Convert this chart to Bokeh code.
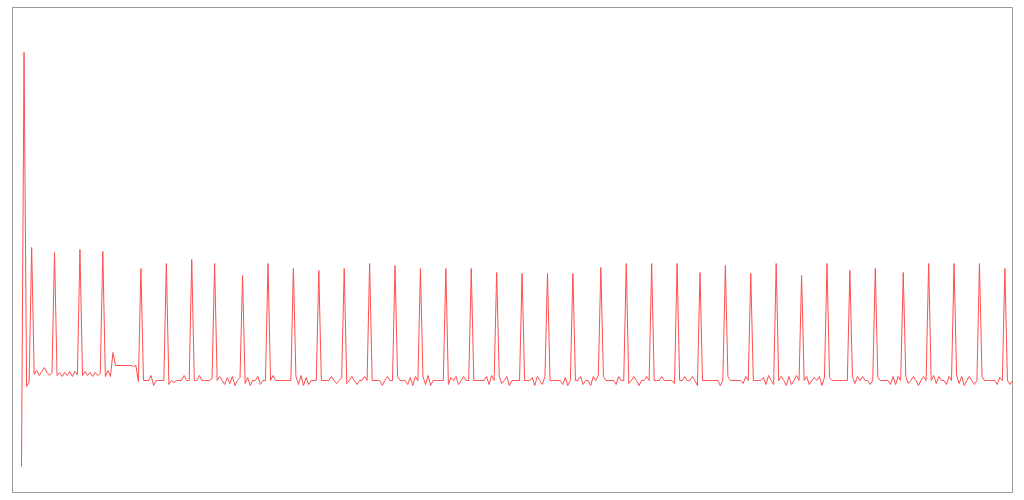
from bokeh.plotting import figure
from bokeh.models import Range1d
from bokeh.embed import file_html
from bokeh.resources import INLINE

# Signal samples (arbitrary units)
onset = [-86, 328, -6, -2, 133, 6, 10, 5, 9, 13, 8, 5, 8,
         128, 5, 8, 4, 8, 5, 9, 4, 9, 6,
         131, 5, 9, 5, 8, 4, 8, 5, 7,
         129, 4, 10, 4, 28, 15, 15, 15, 15, 15, 15, 15, 14, 15, -1]

rhythm = [
    112, 0, 0, 0, 5, -5, 0, 0, 0, 0,
    117, -4, 0, -2, 0, 0, 0, 5, 0, 0,
    121, 0, 0, 5, 0, 0, 0, 0, 2,
    117, 0, 4, 0, -4, 3, -3, 4, -5, 0, 3,
    105, -3, 3, -5, 0, 0, 4, -4, 0, 0,
    117, 0, 5, 0, 0, 0, 0, 0, 0, 0,
    112, 4, -4, 5, -5, 3, -4, 0, 0, 0,
    110, 0, 0, 0, 0, 4, 0, -3, 0, 3,
    112, -3, 0, 4, 0, -4, 0, 0, 4, 0,
    117, 0, 0, 0, 0, -5, 0, 4, 0, 0,
    115, 4, 0, 0, 0, -4, 3, -5, 4, 0,
    112, 4, -4, 5, -5, 0, 0, 0, 0, 0,
    112, -4, 3, 0, 4, -4, 0, 4, 0, 0,
    112, 0, 0, 0, 0, 0, 4, -4, 5, 0,
    108, 4, -3, 0, 4, -5, 0, 0, 0, 0,
    107, 0, 0, 0, 3, -5, 4, 0, -4, 4,
    107, 0, 0, 0, 0, 0, -4, 3, -5, 0,
    107, 0, 0, 4, -4, 0, 0, -5, 4, 0, 5,
    113, 4, 0, 0, 0, 0, -4, 4, 0, 0,
    117, -3, 0, 4, 0, -5, 0, 0, 4, 0,
    117, 0, 0, 0, 4, 0, 0, 0, 0, -3,
    117, 0, 0, 4, 0, 0, 4, 0, -5,
    108, 0, 0, 0, 0, 0, 0, 0, -5, 0,
    115, 4, 0, 0, 0, 0, 0, -3, 4, 0,
    107, 0, 0, 0, 0, 3, -4, 5, 0, -4,
    117, 0, 4, 0, -5, 4, -4, 0, 5, 0,
    105, 0, 4, -4, 0, 3, 0, 4, -5, 3,
    117, 3, 0, 0, 0, 0, 0, 0, 0,
    110, 4, -3, 4, 0, 4, 0, 0, -4, 0,
    112, 3, 0, 0, 0, 0, -4, 4, -4, 4, 0,
    108, 4, -3, 0, 4, 0, -5, 0, 4, 0,
    117, 0, 5, -3, 4, 0, 0, -4, 4, 0,
    117, 5, -3, 4, -5, 0, 4, 0, -4, 0,
    117, 4, 0, 0, 0, 0, 0, -4, 3, 0,
    112, 0, -4, 0,
]

values = onset + rhythm
samples = list(range(len(values)))

n_last = samples[-1]
p = figure(width=1024, height=500, output_backend="svg", toolbar_location=None,
           x_range=Range1d(-n_last * 9.0 / 991.0, n_last),
           y_range=Range1d(-112, 373),
           min_border_left=12, min_border_right=12,
           min_border_top=7, min_border_bottom=8)
p.xaxis.visible = False
p.yaxis.visible = False
p.xgrid.visible = False
p.ygrid.visible = False
p.outline_line_color = "#999999"
p.outline_line_width = 1
p.background_fill_color = "white"
p.border_fill_color = "white"

p.line(samples, values, line_color="#ff4d4d", line_width=1)

open("out.html", "w").write(file_html(p, INLINE))
